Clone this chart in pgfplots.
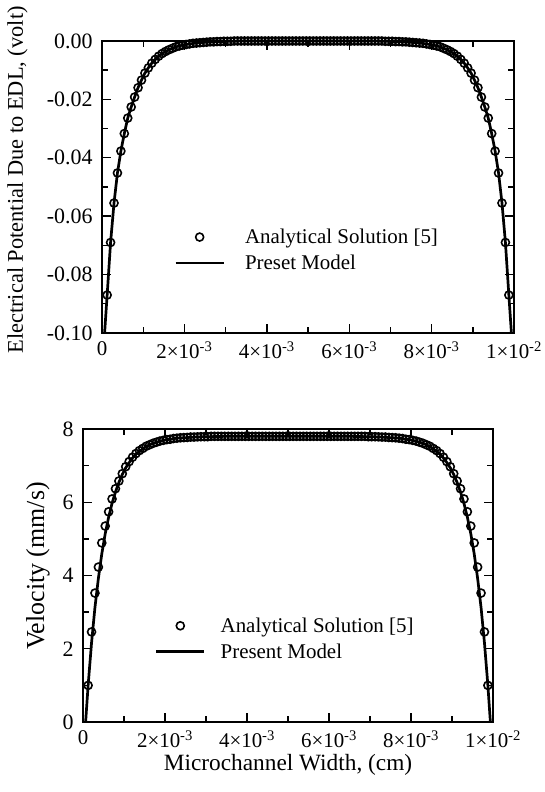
\documentclass[border=0pt]{standalone}
\usepackage{fontspec}
\setmainfont{Liberation Serif}
\usepackage{pgfplots}
\pgfplotsset{compat=1.18}
\usepackage{pgfplotstable}
\newcommand\ff{\fontsize{21}{25}\selectfont}
\newcommand\fy{\fontsize{22}{26}\selectfont}

\pgfplotstableread{
x psi u
0.04167e-3 nan nan
0.125e-3 -0.0870 1.00
0.20833e-3 -0.0690 2.46
0.29167e-3 -0.0555 3.52
0.375e-3 -0.0452 4.23
0.45833e-3 -0.0377 4.89
0.54167e-3 -0.0317 5.35
0.625e-3 -0.0264 5.74
0.70833e-3 -0.0226 6.09
0.79167e-3 -0.0192 6.37
0.875e-3 -0.0160 6.58
0.95833e-3 -0.0134 6.78
1.04167e-3 -0.0110 6.97
1.125e-3 -0.0092 7.11
1.20833e-3 -0.0076 7.23
1.29167e-3 -0.0063 7.33
1.375e-3 -0.0052 7.41
1.45833e-3 -0.0043 7.47
1.54167e-3 -0.0036 7.53
1.625e-3 -0.0030 7.57
1.70833e-3 -0.0025 7.61
1.79167e-3 -0.0020 7.64
1.875e-3 -0.0017 7.67
1.95833e-3 -0.0014 7.69
2.04167e-3 -0.0012 7.71
2.125e-3 -0.0010 7.72
2.20833e-3 -0.0008 7.74
2.29167e-3 -0.0007 7.75
2.375e-3 -0.0006 7.76
2.45833e-3 -0.0005 7.765
2.54167e-3 -0.0004 7.77
2.625e-3 -0.0003 7.78
2.70833e-3 -0.0003 7.78
2.79167e-3 -0.0002 7.785
2.875e-3 -0.0002 7.79
2.95833e-3 -0.0001 7.79
3.04167e-3 -0.0001 7.79
3.125e-3 -0.0001 7.80
3.20833e-3 0 7.80
3.29167e-3 0 7.80
3.375e-3 0 7.80
3.45833e-3 0 7.80
3.54167e-3 0 7.80
3.625e-3 0 7.80
3.70833e-3 0 7.80
3.79167e-3 0 7.80
3.875e-3 0 7.80
3.95833e-3 0 7.80
4.04167e-3 0 7.80
4.125e-3 0 7.80
4.20833e-3 0 7.80
4.29167e-3 0 7.80
4.375e-3 0 7.80
4.45833e-3 0 7.80
4.54167e-3 0 7.80
4.625e-3 0 7.80
4.70833e-3 0 7.80
4.79167e-3 0 7.80
4.875e-3 0 7.80
4.95833e-3 0 7.80
5.04167e-3 0 7.80
5.125e-3 0 7.80
5.20833e-3 0 7.80
5.29167e-3 0 7.80
5.375e-3 0 7.80
5.45833e-3 0 7.80
5.54167e-3 0 7.80
5.625e-3 0 7.80
5.70833e-3 0 7.80
5.79167e-3 0 7.80
5.875e-3 0 7.80
5.95833e-3 0 7.80
6.04167e-3 0 7.80
6.125e-3 0 7.80
6.20833e-3 0 7.80
6.29167e-3 0 7.80
6.375e-3 0 7.80
6.45833e-3 0 7.80
6.54167e-3 0 7.80
6.625e-3 0 7.80
6.70833e-3 0 7.80
6.79167e-3 0 7.80
6.875e-3 -0.0001 7.80
6.95833e-3 -0.0001 7.79
7.04167e-3 -0.0001 7.79
7.125e-3 -0.0002 7.79
7.20833e-3 -0.0002 7.785
7.29167e-3 -0.0003 7.78
7.375e-3 -0.0003 7.78
7.45833e-3 -0.0004 7.77
7.54167e-3 -0.0005 7.765
7.625e-3 -0.0006 7.76
7.70833e-3 -0.0007 7.75
7.79167e-3 -0.0008 7.74
7.875e-3 -0.0010 7.72
7.95833e-3 -0.0012 7.71
8.04167e-3 -0.0014 7.69
8.125e-3 -0.0017 7.67
8.20833e-3 -0.0020 7.64
8.29167e-3 -0.0025 7.61
8.375e-3 -0.0030 7.57
8.45833e-3 -0.0036 7.53
8.54167e-3 -0.0043 7.47
8.625e-3 -0.0052 7.41
8.70833e-3 -0.0063 7.33
8.79167e-3 -0.0076 7.23
8.875e-3 -0.0092 7.11
8.95833e-3 -0.0110 6.97
9.04167e-3 -0.0134 6.78
9.125e-3 -0.0160 6.58
9.20833e-3 -0.0192 6.37
9.29167e-3 -0.0226 6.09
9.375e-3 -0.0264 5.74
9.45833e-3 -0.0317 5.35
9.54167e-3 -0.0377 4.89
9.625e-3 -0.0452 4.23
9.70833e-3 -0.0555 3.52
9.79167e-3 -0.0690 2.46
9.875e-3 -0.0870 1.00
9.95833e-3 nan nan
}\circdata

\pgfplotstableread{
x y
0.063e-3 -0.1
0.125e-3 -0.0870
0.20833e-3 -0.0690
0.29167e-3 -0.0555
0.375e-3 -0.0452
0.45833e-3 -0.0377
0.54167e-3 -0.0317
0.625e-3 -0.0264
0.70833e-3 -0.0226
0.79167e-3 -0.0192
0.875e-3 -0.0160
0.95833e-3 -0.0134
1.04167e-3 -0.0110
1.125e-3 -0.0092
1.20833e-3 -0.0076
1.29167e-3 -0.0063
1.375e-3 -0.0052
1.45833e-3 -0.0043
1.54167e-3 -0.0036
1.625e-3 -0.0030
1.70833e-3 -0.0025
1.79167e-3 -0.0020
1.875e-3 -0.0017
1.95833e-3 -0.0014
2.04167e-3 -0.0012
2.125e-3 -0.0010
2.29167e-3 -0.0007
2.45833e-3 -0.0005
2.70833e-3 -0.0003
3.04167e-3 -0.0001
3.5e-3 0
6.5e-3 0
6.95833e-3 -0.0001
7.29167e-3 -0.0003
7.54167e-3 -0.0005
7.70833e-3 -0.0007
7.875e-3 -0.0010
7.95833e-3 -0.0012
8.04167e-3 -0.0014
8.125e-3 -0.0017
8.20833e-3 -0.0020
8.29167e-3 -0.0025
8.375e-3 -0.0030
8.45833e-3 -0.0036
8.54167e-3 -0.0043
8.625e-3 -0.0052
8.70833e-3 -0.0063
8.79167e-3 -0.0076
8.875e-3 -0.0092
8.95833e-3 -0.0110
9.04167e-3 -0.0134
9.125e-3 -0.0160
9.20833e-3 -0.0192
9.29167e-3 -0.0226
9.375e-3 -0.0264
9.45833e-3 -0.0317
9.54167e-3 -0.0377
9.625e-3 -0.0452
9.70833e-3 -0.0555
9.79167e-3 -0.0690
9.875e-3 -0.0870
9.937e-3 -0.1
}\linetop

\pgfplotstableread{
x y
0.064e-3 0
0.125e-3 1.00
0.20833e-3 2.16
0.29167e-3 3.13
0.375e-3 3.92
0.45833e-3 4.59
0.54167e-3 5.14
0.625e-3 5.59
0.70833e-3 5.97
0.79167e-3 6.28
0.875e-3 6.54
0.95833e-3 6.76
1.04167e-3 6.94
1.125e-3 7.08
1.20833e-3 7.21
1.29167e-3 7.31
1.375e-3 7.39
1.45833e-3 7.46
1.54167e-3 7.52
1.625e-3 7.57
1.70833e-3 7.61
1.79167e-3 7.64
1.875e-3 7.67
1.95833e-3 7.69
2.04167e-3 7.71
2.125e-3 7.72
2.29167e-3 7.75
2.45833e-3 7.76
2.70833e-3 7.78
3.04167e-3 7.79
3.5e-3 7.8
6.5e-3 7.8
6.95833e-3 7.79
7.29167e-3 7.78
7.54167e-3 7.76
7.70833e-3 7.75
7.875e-3 7.72
7.95833e-3 7.71
8.04167e-3 7.69
8.125e-3 7.67
8.20833e-3 7.64
8.29167e-3 7.61
8.375e-3 7.57
8.45833e-3 7.52
8.54167e-3 7.46
8.625e-3 7.39
8.70833e-3 7.31
8.79167e-3 7.21
8.875e-3 7.08
8.95833e-3 6.94
9.04167e-3 6.76
9.125e-3 6.54
9.20833e-3 6.28
9.29167e-3 5.97
9.375e-3 5.59
9.45833e-3 5.14
9.54167e-3 4.59
9.625e-3 3.92
9.70833e-3 3.13
9.79167e-3 2.16
9.875e-3 1.00
9.936e-3 0
}\linebot

\pgfplotsset{
  myaxis/.style={
    scale only axis,
    xmin=0, xmax=0.01,
    xtick={0,0.002,0.004,0.006,0.008,0.01},
    xticklabels={0, 2×10\textsuperscript{-3}, 4×10\textsuperscript{-3}, 6×10\textsuperscript{-3}, 8×10\textsuperscript{-3}, 1×10\textsuperscript{-2}},
    minor x tick num=1, minor y tick num=1,
    tick align=inside,
    major tick length=9bp, minor tick length=6bp,
    every tick/.style={black, line width=1.4bp},
    axis line style={line width=1.7bp},
    x tick label style={font=\ff, yshift=-5bp},
    y tick label style={font=\fy, xshift=-6bp},
    label style={font=\ff},
    clip=false,
    scaled x ticks=false, scaled y ticks=false,
    legend cell align=left,
    legend style={draw=none, fill=none, inner sep=0pt, font=\ff,
      row sep=10bp, column sep=20bp, nodes={inner sep=0pt},
      at={(axis description cs:0.175,0.284)}, anchor=west},
  },
  mk/.style={only marks, mark=o, mark size=4bp, mark options={line width=1.6bp, black},
    legend image code/.code={\draw[##1] plot coordinates {(24bp,0bp)};}},
  ln/.style={black, line width=2.7bp, no marks,
    legend image code/.code={\draw[##1] (0bp,0bp) -- (48bp,0bp);}},
}

\begin{document}
\begin{tikzpicture}
\path[use as bounding box] (0,0) rectangle (545bp,792bp);
\begin{axis}[myaxis, at={(102bp,459bp)}, anchor=south west,
  width=412bp, height=292bp,
  ymin=-0.1, ymax=0,
  ytick={-0.1,-0.08,-0.06,-0.04,-0.02,0},
  yticklabels={-0.10,-0.08,-0.06,-0.04,-0.02,0.00},
  ylabel={Electrical Potential Due to EDL, (volt)},
  ylabel style={at={(axis description cs:-0.205,0.524)}, anchor=center, font=\fontsize{22.5}{27}\selectfont},
]
\addplot[mk] table[x=x, y=psi] {\circdata};
\addlegendentry{Analytical Solution [5]}
\addplot[ln] table[x=x, y=y] {\linetop};
\addlegendentry{Preset Model}
\end{axis}
\begin{axis}[myaxis, at={(83bp,70bp)}, anchor=south west,
  width=410bp, height=293bp,
  ymin=0, ymax=8,
  ytick={0,2,4,6,8},
  yticklabels={0,2,4,6,8},
  xlabel={Microchannel Width, (cm)},
  xlabel style={at={(axis description cs:0.5,-0.164)}, anchor=base, font=\fontsize{23.4}{28}\selectfont},
  ylabel={Velocity (mm/s)},
  ylabel style={at={(axis description cs:-0.11,0.532)}, anchor=center, font=\fontsize{26}{31}\selectfont},
  legend style={column sep=15bp},
]
\addplot[mk] table[x=x, y=u] {\circdata};
\addlegendentry{Analytical Solution [5]}
\addplot[ln] table[x=x, y=y] {\linebot};
\addlegendentry{Present Model}
\end{axis}
\end{tikzpicture}
\end{document}
